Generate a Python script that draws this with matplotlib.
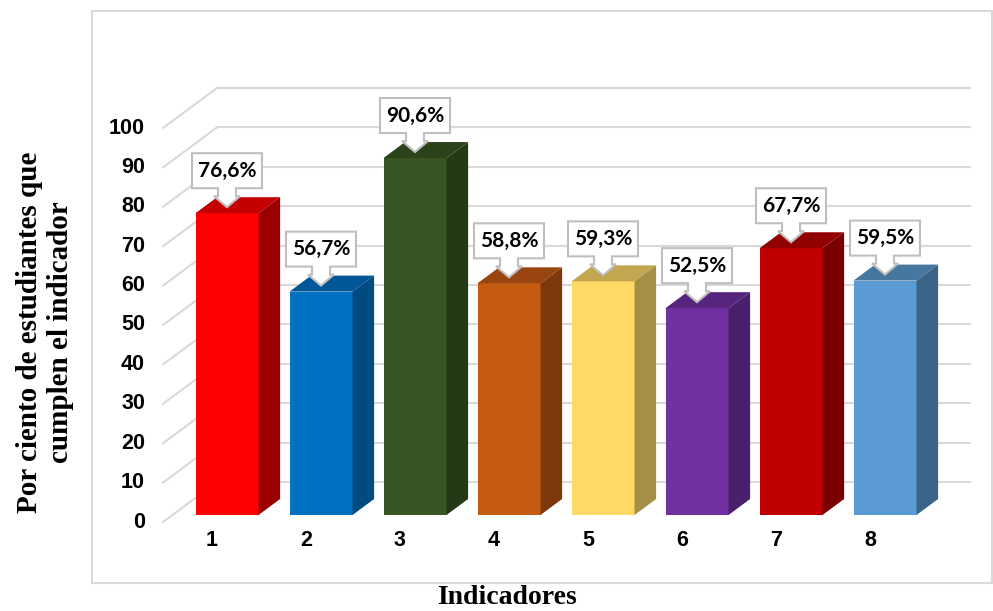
import matplotlib.pyplot as plt
from matplotlib.patches import Polygon, Rectangle

indicators = [1, 2, 3, 4, 5, 6, 7, 8]
values = [76.6, 56.7, 90.6, 58.8, 59.3, 52.5, 67.7, 59.5]
labels = ['76,6%', '56,7%', '90,6%', '58,8%', '59,3%', '52,5%', '67,7%', '59,5%']
y_ticks = [0, 10, 20, 30, 40, 50, 60, 70, 80, 90, 100]

front_colors = ['#FF0000', '#0070C0', '#375623', '#C55A11', '#FFD966', '#7030A0', '#C00000', '#5B9BD5']
top_colors = ['#C40000', '#005696', '#2B431B', '#984510', '#C2A650', '#57257D', '#920000', '#46779F']
side_colors = ['#9A0000', '#004B80', '#243A17', '#7E380C', '#A68F47', '#4A1F6B', '#7A0000', '#3B6489']

# pixel scale of the bar front plane
PX_X = 94.0
PX_Y = 3.94
DX = 1.35 / PX_X   # x shift per pixel of depth
DY = 1.0 / PX_Y    # y shift per pixel of depth


def shift(x, y, d):
    return x + d * DX, y + d * DY


fig = plt.figure(figsize=(9.93, 6.11), dpi=100)
ax = fig.add_axes([0, 0, 1, 1])
ax.set_xlim(1 - 227 / PX_X, 1 + 766 / PX_X)
ax.set_ylim(-96 / PX_Y, 515 / PX_Y)
ax.axis('off')

# chart area border
fig.patches.append(Rectangle((92 / 993, 1 - 583 / 611), 900 / 993, 572 / 611,
                             transform=fig.transFigure, fill=False,
                             edgecolor='#D9D9D9', linewidth=1.5))

grid_c = '#D9D9D9'
x_wall = 0.42
x_right = 8.43
d_front, d_back = -7, 33

for v in y_ticks:
    fx, fy = shift(x_wall, v, d_front)
    bx, by = shift(x_wall, v, d_back)
    rx, ry = shift(x_right, v, d_back)
    ax.plot([fx, bx], [fy, by], color=grid_c, lw=1.5, zorder=1)
    ax.plot([bx, rx], [by, ry], color=grid_c, lw=1.5, zorder=1)
    ax.text(fx - 18 / PX_X, fy, str(v), ha='right', va='center',
            fontsize=15.5, fontweight='bold', family='Liberation Sans')

# bars with fake depth
w = 63 / PX_X
depth = 16
ax.bar(indicators, values, width=w, color=front_colors, linewidth=0, zorder=3)
for x, v, tc, sc in zip(indicators, values, top_colors, side_colors):
    xl, xr = x - w / 2, x + w / 2
    top = [(xl, v), (xr, v), shift(xr, v, depth), shift(xl, v, depth)]
    side = [(xr, 0), (xr, v), shift(xr, v, depth), shift(xr, 0, depth)]
    ax.add_patch(Polygon(top, closed=True, facecolor=tc, lw=0, zorder=3))
    ax.add_patch(Polygon(side, closed=True, facecolor=sc, lw=0, zorder=3))

# callout labels
bw, bh = 70 / PX_X, 35 / PX_Y
gap = 19 / PX_Y
stem, head = 9 / PX_X, 13 / PX_X
head_top = 11 / PX_Y
for x, v, lab in zip(indicators, values, labels):
    tx, ty = x, v + 6 / PX_Y
    b0 = ty + gap
    pts = [(tx - bw / 2, b0), (tx - stem, b0), (tx - stem, ty + head_top),
           (tx - head, ty + head_top), (tx, ty), (tx + head, ty + head_top),
           (tx + stem, ty + head_top), (tx + stem, b0), (tx + bw / 2, b0),
           (tx + bw / 2, b0 + bh), (tx - bw / 2, b0 + bh)]
    ax.add_patch(Polygon(pts, closed=True, facecolor='white', edgecolor='#BFBFBF',
                         lw=1.5, zorder=5))
    ax.text(tx, b0 + bh / 2, lab, ha='center', va='center', fontsize=15,
            fontweight='bold', family='Lato', zorder=6)

# category labels
for x in indicators:
    ax.text(x - 0.16, -25 / PX_Y, str(x), ha='center', va='center',
            fontsize=15.5, fontweight='bold', family='Liberation Sans')

fig.text(45 / 993, 1 - 332 / 611, 'Por ciento de estudiantes que\ncumplen el indicador',
         rotation=90, ha='center', va='center', fontsize=21, fontweight='bold',
         family='Liberation Serif', linespacing=1.15)
fig.text(507 / 993, 1 - 598 / 611, 'Indicadores', ha='center', va='center',
         fontsize=20, fontweight='bold', family='Liberation Serif')

fig.savefig('out.png', dpi=100)
